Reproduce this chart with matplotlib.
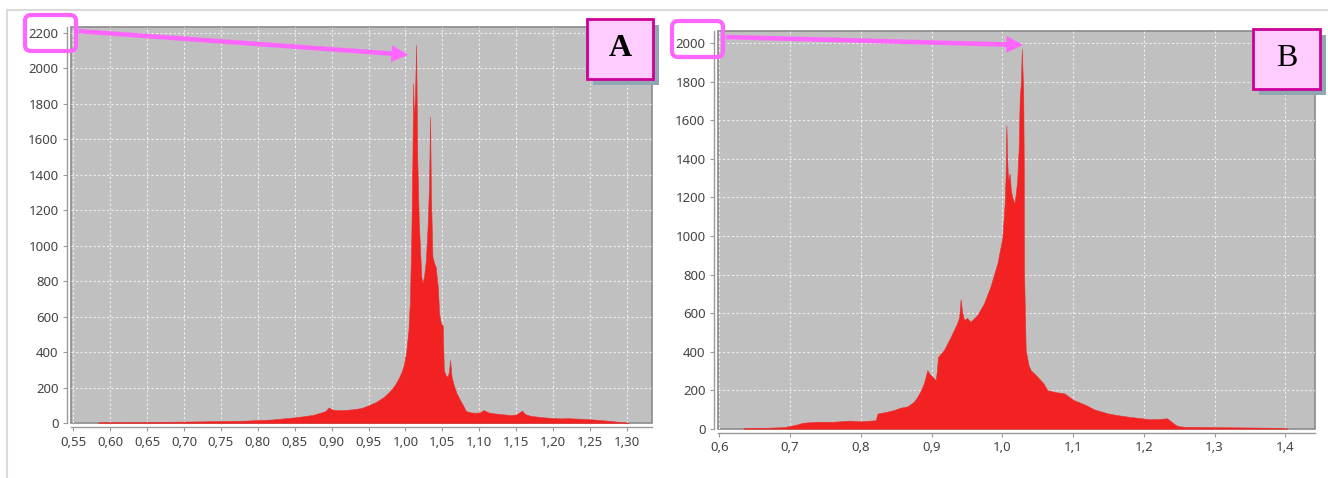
import matplotlib
matplotlib.use('Agg')
import matplotlib.pyplot as plt
from matplotlib.ticker import FuncFormatter, MultipleLocator
from matplotlib.patches import Rectangle, FancyBboxPatch, FancyArrowPatch
from matplotlib.lines import Line2D

plt.rcParams['font.family'] = ['Noto Sans', 'DejaVu Sans']

# panel A histogram (value, count)
xa = [0.584, 0.60, 0.62, 0.65, 0.68, 0.70, 0.72, 0.75, 0.78, 0.80, 0.82, 0.83,
      0.845, 0.855, 0.865, 0.875, 0.885, 0.892, 0.896, 0.899, 0.903, 0.91, 0.92,
      0.93, 0.94, 0.95, 0.96, 0.97, 0.978, 0.985, 0.99, 0.995, 0.998, 1.001,
      1.004, 1.006, 1.008, 1.0095, 1.0105, 1.0115, 1.013, 1.0145, 1.016, 1.018,
      1.0198, 1.0215, 1.0226, 1.025, 1.0277, 1.030, 1.032, 1.0334, 1.0345,
      1.0366, 1.039, 1.041, 1.044, 1.0456, 1.048, 1.0505, 1.052, 1.0545, 1.057,
      1.059, 1.0605, 1.0625, 1.065, 1.069, 1.074, 1.078, 1.082, 1.088, 1.095,
      1.101, 1.106, 1.112, 1.119, 1.13, 1.142, 1.15, 1.158, 1.162, 1.17, 1.187,
      1.20, 1.209, 1.22, 1.232, 1.245, 1.254, 1.265, 1.277, 1.29, 1.30, 1.302]
ya = [4, 5, 5, 6, 7, 8, 9, 11, 13, 16, 20, 24,
      30, 34, 40, 46, 58, 68, 88, 80, 74, 72, 74,
      78, 84, 100, 118, 145, 175, 210, 245, 290, 330, 400,
      520, 680, 1050, 1500, 1916, 1700, 1850, 2132, 1500, 1150,
      976, 830, 788, 820, 919, 1105, 1350, 1728, 1300,
      938, 900, 880, 760, 620, 563, 550, 300, 270, 261,
      290, 355, 261, 220, 170, 130, 100, 68, 60, 58,
      60, 73, 60, 55, 50, 45, 48, 70, 50, 40, 32,
      28, 26, 27, 25, 22, 20, 16, 12, 6, 3, 0]

# panel B histogram (value, count)
xb = [0.634, 0.65, 0.667, 0.69, 0.70, 0.71, 0.718, 0.737, 0.761, 0.785, 0.80,
      0.813, 0.821, 0.8235, 0.8255, 0.837, 0.847, 0.855, 0.866, 0.875, 0.880,
      0.885, 0.889, 0.894, 0.897, 0.901, 0.9057, 0.9075, 0.909, 0.9174, 0.927,
      0.936, 0.939, 0.941, 0.943, 0.9457, 0.950, 0.955, 0.9646, 0.974, 0.983,
      0.993, 1.000, 1.0033, 1.0045, 1.0057, 1.0068, 1.008, 1.0103, 1.012, 1.014,
      1.017, 1.019, 1.021, 1.023, 1.0246, 1.0263, 1.0275, 1.0288, 1.0295, 1.0302,
      1.0306, 1.033, 1.037, 1.040, 1.0495, 1.058, 1.0636, 1.075, 1.088, 1.10,
      1.118, 1.13, 1.1485, 1.16, 1.1787, 1.195, 1.209, 1.22, 1.233, 1.239, 1.244,
      1.248, 1.257, 1.28, 1.299, 1.33, 1.359, 1.38, 1.401, 1.403]
yb = [4, 5, 5, 8, 14, 22, 31, 36, 36, 42, 38,
      42, 44, 78, 80, 88, 97, 108, 116, 140, 166,
      200, 235, 304, 285, 270, 252, 300, 373, 408, 477,
      547, 580, 672, 610, 564, 575, 555, 590, 650, 736,
      858, 990, 1169, 1300, 1575, 1400, 1290, 1324, 1240, 1203,
      1169, 1220, 1290, 1450, 1721, 1800, 1972, 1820, 1756, 1400,
      823, 408, 330, 304, 270, 236, 200, 190, 183, 150,
      123, 100, 80, 72, 62, 55, 49, 50, 54, 36, 22,
      14, 10, 9, 8, 7, 6, 5, 3, 0]

W, H = 1328, 478
fig = plt.figure(figsize=(W / 100, H / 100), dpi=100)

def P(x, y):
    return (x / 100, (H - y) / 100)

def make_ax(left, right, top, bottom, x, y, xlim, ylim, xstep, ystep, fmt):
    ax = fig.add_axes([left / W, 1 - bottom / H, (right - left) / W, (bottom - top) / H])
    ax.set_facecolor('#C0C0C0')
    ax.patch.set_edgecolor('#8A8A8A')
    ax.patch.set_linewidth(1.2)
    ax.fill_between(x, y, 0, color='#F22222', linewidth=0.4, edgecolor='#E83030')
    ax.set_xlim(*xlim)
    ax.set_ylim(*ylim)
    ax.xaxis.set_major_locator(MultipleLocator(xstep))
    ax.yaxis.set_major_locator(MultipleLocator(ystep))
    ax.xaxis.set_major_formatter(FuncFormatter(lambda v, p: fmt.format(v).replace('.', ',')))
    ax.grid(True, color='#EFEFEF', linestyle=(0, (2, 2)), linewidth=0.8)
    ax.set_axisbelow(True)
    for s in ['top', 'right']:
        ax.spines[s].set_visible(False)
    for s in ['left', 'bottom']:
        ax.spines[s].set_position(('outward', 3))
        ax.spines[s].set_color('#9A9A9A')
        ax.spines[s].set_linewidth(1.0)
    ax.tick_params(colors='#9A9A9A', labelcolor='#444444', labelsize=9.5,
                   length=3, width=0.8, pad=3)
    return ax

axA = make_ax(71, 652, 27, 423, xa, ya, (0.547, 1.334), (0, 2234), 0.05, 200, '{:.2f}')
axB = make_ax(718, 1315, 31, 428.7, xb, yb, (0.598, 1.442), (0, 2064), 0.1, 200, '{:.1f}')

# outer frame
fig.add_artist(Line2D([7 / 100, W / 100], [(H - 10) / 100] * 2, color='#DADADA', lw=1.5,
                      transform=fig.dpi_scale_trans))
fig.add_artist(Line2D([7 / 100] * 2, [(H - 10) / 100, 0], color='#DADADA', lw=1.5,
                      transform=fig.dpi_scale_trans))

pink = '#FF66FF'

def label_box(x0, y0, x1, y1, letter, weight):
    sh = 6
    fig.add_artist(Rectangle(P(x0 + sh, y1 + sh), (x1 - x0) / 100, (y1 - y0) / 100,
                             facecolor='#8FA8B2', edgecolor='none',
                             transform=fig.dpi_scale_trans))
    fig.add_artist(Rectangle(P(x0, y1), (x1 - x0) / 100, (y1 - y0) / 100,
                             facecolor='#FFCCFF', edgecolor='#CC0099', linewidth=2,
                             transform=fig.dpi_scale_trans))
    cx, cy = P((x0 + x1) / 2, (y0 + y1) / 2)
    fig.text(cx, cy, letter, transform=fig.dpi_scale_trans, ha='center', va='center',
             fontsize=23, fontweight=weight, family=['Liberation Serif', 'DejaVu Serif'],
             color='black')

def callout(x0, y0, x1, y1, tip):
    fig.add_artist(FancyBboxPatch(P(x0, y1), (x1 - x0) / 100, (y1 - y0) / 100,
                                  boxstyle='round,pad=0,rounding_size=0.06',
                                  fill=False, edgecolor=pink, linewidth=3,
                                  transform=fig.dpi_scale_trans))
    fig.add_artist(FancyArrowPatch(P(x1, (y0 + y1) / 2 - 2), P(*tip),
                                   arrowstyle='simple,head_length=1.1,head_width=1.1,tail_width=0.3',
                                   mutation_scale=11, color=pink, linewidth=0,
                                   transform=fig.dpi_scale_trans))

label_box(587, 19, 653, 79, 'A', 'bold')
label_box(1253, 29, 1320, 89, 'B', 'normal')
callout(25, 15, 76, 51, (411, 55))
callout(672, 21, 723, 57, (1026, 45))

plt.savefig('out.png', dpi=100)
